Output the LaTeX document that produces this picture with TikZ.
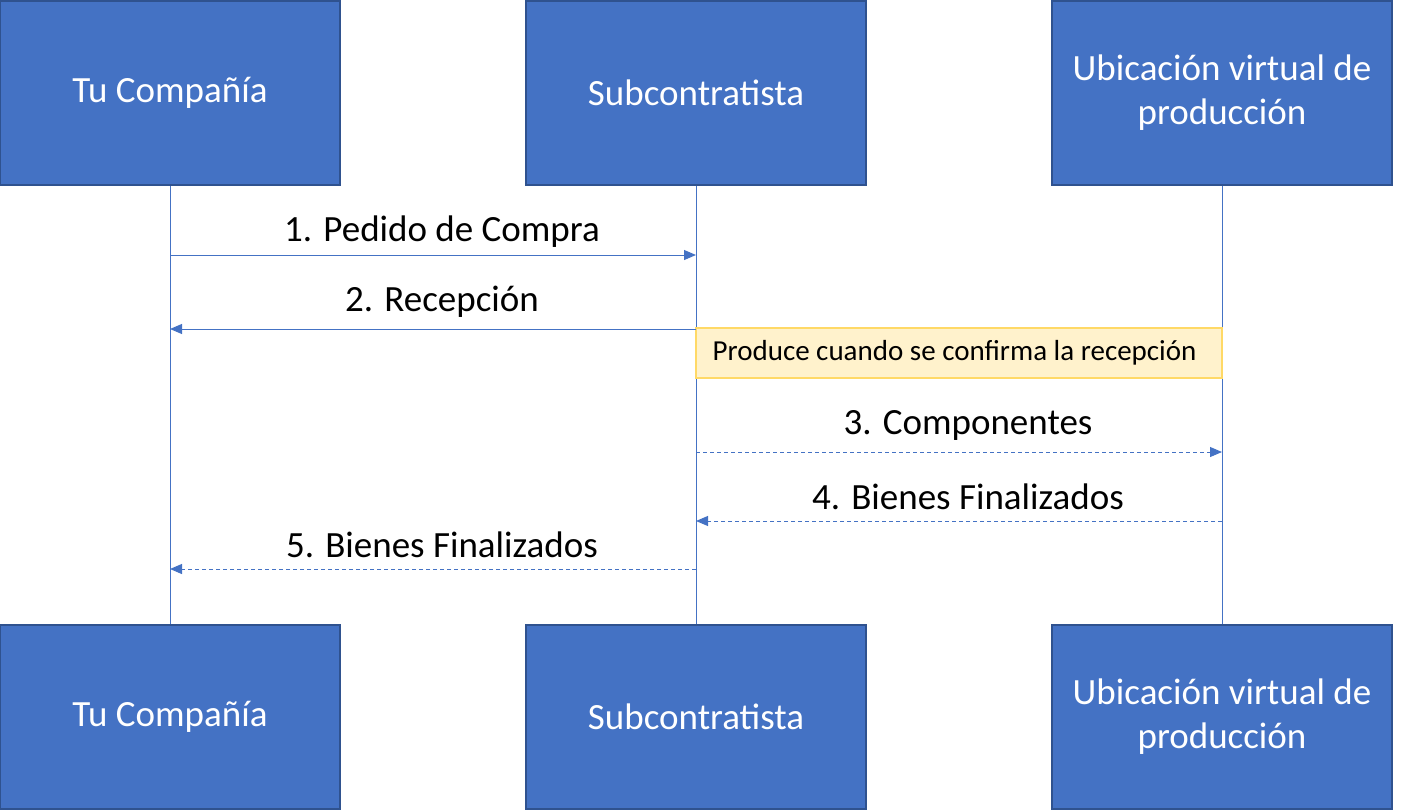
\documentclass[tikz,border=0pt]{standalone}
\usepackage{fontspec}
\setmainfont{Carlito}
\usetikzlibrary{arrows.meta}
\definecolor{boxblue}{HTML}{4472C4}
\definecolor{boxedge}{HTML}{2F528F}
\definecolor{notefill}{HTML}{FFF2CC}
\definecolor{noteedge}{HTML}{FFD966}
\begin{document}
\begin{tikzpicture}
  [x=0.5pt,y=-0.5pt]
      \tikzstyle{actor_style} = [fill=boxblue, draw=boxedge, line width=1pt, minimum width=170pt, minimum height=92pt, inner sep=0pt, text=white, align=center, font=\fontsize{18.5}{22}\selectfont]
      \tikzstyle{life_style} = [draw=boxblue, line width=0.5pt]
      \tikzstyle{msg_style} = [draw=boxblue, line width=0.5pt, -{Triangle[length=6pt,width=5pt]}]
      \tikzstyle{reply_style} = [msg_style, dash pattern=on 2pt off 1.5pt]
      \tikzstyle{label_style} = [anchor=south, xshift=4.5pt, inner sep=0pt, font=\fontsize{18.5}{22}\selectfont]
  \useasboundingbox (0,0) rectangle (1406,809);
  % participants
  \node[actor_style] (comp) at (170,93) {Tu Compañía};
  \node[actor_style] (sub) at (696,93) {Subcontratista};
  \node[actor_style] (ubic) at (1222,93) {Ubicación virtual de\\producción};
  \node[actor_style] (compb) at (170,716.5) {Tu Compañía};
  \node[actor_style] (subb) at (696,716.5) {Subcontratista};
  \node[actor_style] (ubicb) at (1222,716.5) {Ubicación virtual de\\producción};
  \draw[life_style] (comp) -- (compb);
  \draw[life_style] (sub) -- (subb);
  \draw[life_style] (ubic) -- (ubicb);
  % message ends
  \coordinate (c1) at (170,255);
  \coordinate (s1) at (696,255);
  \coordinate (c2) at (170,329);
  \coordinate (s2) at (696,329);
  \coordinate (s3) at (696,452);
  \coordinate (u3) at (1222,452);
  \coordinate (s4) at (696,521);
  \coordinate (u4) at (1222,521);
  \coordinate (c5) at (170,569);
  \coordinate (s5) at (696,569);
  \node[fill=notefill, draw=noteedge, line width=1pt, minimum width=263pt, minimum height=25pt, inner sep=0pt, font=\fontsize{14.5}{16}\selectfont] (note) at (959,353) {\hspace{-4.5pt}Produce cuando se confirma la recepción};
  \draw[msg_style] (c1) -- node[label_style, yshift=3.5pt] {1. Pedido de Compra} (s1);
  \draw[msg_style] (s2) -- node[label_style, yshift=5.5pt] {2. Recepción} (c2);
  \draw[reply_style] (s3) -- node[label_style, yshift=5.5pt] {3. Componentes} (u3);
  \draw[reply_style] (u4) -- node[label_style, yshift=5.5pt] {4. Bienes Finalizados} (s4);
  \draw[reply_style] (s5) -- node[label_style, yshift=5.5pt] {5. Bienes Finalizados} (c5);
\end{tikzpicture}
\end{document}
